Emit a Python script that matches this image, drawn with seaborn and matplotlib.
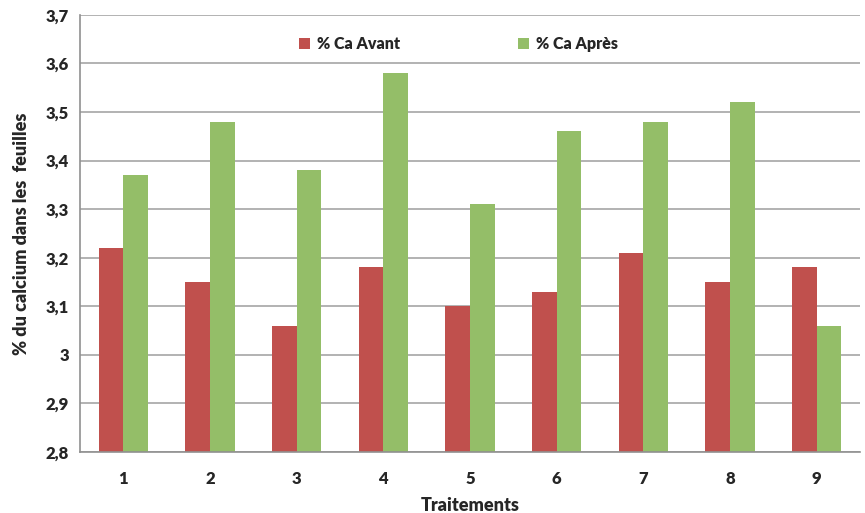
import matplotlib
matplotlib.use("Agg")
import matplotlib.pyplot as plt
import seaborn as sns
import pandas as pd
from matplotlib.ticker import FuncFormatter, MultipleLocator

traitements = ["1", "2", "3", "4", "5", "6", "7", "8", "9"]
ca_avant = [3.22, 3.15, 3.06, 3.18, 3.10, 3.13, 3.21, 3.15, 3.18]
ca_apres = [3.37, 3.48, 3.38, 3.58, 3.31, 3.46, 3.48, 3.52, 3.06]
series = ["% Ca Avant", "% Ca Après"]
colors = ["#C0504D", "#94BE68"]

df = pd.DataFrame({
    "Traitement": traitements * 2,
    "Valeur": ca_avant + ca_apres,
    "Série": [series[0]] * len(traitements) + [series[1]] * len(traitements),
})

sns.set_style("white")
plt.rcParams["font.family"] = ["Lato", "DejaVu Sans"]

fig = plt.figure(figsize=(8.65, 5.13), dpi=100)
ax = fig.add_axes([0.0925, 0.119, 0.9017, 0.852])

sns.barplot(data=df, x="Traitement", y="Valeur", hue="Série",
            palette=colors, width=0.57, ax=ax, saturation=1,
            edgecolor="none", linewidth=0)

ax.set_ylim(2.8, 3.7)
ax.set_xlim(-0.5, 8.5)
ax.yaxis.set_major_locator(MultipleLocator(0.1))
ax.yaxis.set_major_formatter(FuncFormatter(
    lambda v, _: ("%g" % round(v, 2)).replace(".", ",")))
ax.set_axisbelow(True)
ax.grid(axis="y", color="#A6A6A6", linewidth=1.2)
ax.grid(axis="x", visible=False)

for side in ["top", "right"]:
    ax.spines[side].set_visible(False)
for side in ["left", "bottom"]:
    ax.spines[side].set_color("#909090")
    ax.spines[side].set_linewidth(1.2)

ax.tick_params(axis="both", length=0, labelsize=12, pad=14)
ax.tick_params(axis="y", pad=8)
for lbl in ax.get_xticklabels() + ax.get_yticklabels():
    lbl.set_fontweight("heavy")

ax.set_xlabel("Traitements", fontsize=13, fontweight="heavy", labelpad=7)
ax.set_ylabel("% du calcium dans les  feuilles", fontsize=13,
              fontweight="heavy", labelpad=11)

leg = ax.legend(loc="upper center", bbox_to_anchor=(0.485, 0.985), ncol=2,
                frameon=False, fontsize=11.5, columnspacing=7.4,
                handlelength=0.7, handleheight=0.7, handletextpad=0.4)
for t in leg.get_texts():
    t.set_fontweight("heavy")

fig.savefig("out.png", dpi=100)
